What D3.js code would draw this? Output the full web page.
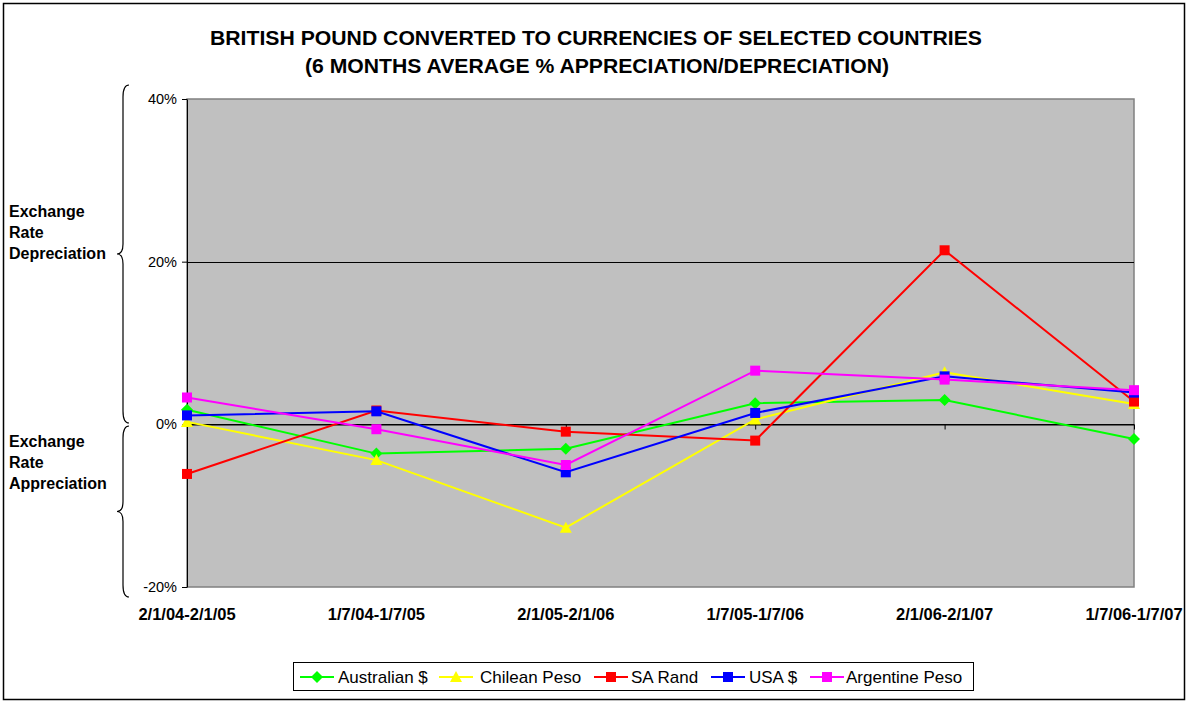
<!DOCTYPE html>
<html><head><meta charset="utf-8">
<script src="https://cdn.jsdelivr.net/npm/d3@7"></script>
<style>body{margin:0;background:#fff}svg{display:block;font-family:"Liberation Sans",Arial,sans-serif}</style>
</head><body><svg id="c" width="1187" height="702"></svg>
<script>
const categories = ["2/1/04-2/1/05","1/7/04-1/7/05","2/1/05-2/1/06","1/7/05-1/7/06","2/1/06-2/1/07","1/7/06-1/7/07"];
const australian = [1.8,-3.6,-3.0,2.6,3.0,-1.8];
const chilean = [0.3,-4.4,-12.7,0.6,6.4,2.5];
const saRand = [-6.1,1.7,-0.9,-2.0,21.4,2.8];
const usa = [1.1,1.6,-5.9,1.4,5.9,3.9];
const argentine = [3.3,-0.6,-5.0,6.6,5.5,4.2];
const yTicks = [-20,0,20,40];
const seriesNames = ["Australian $","Chilean Peso","SA Rand","USA $","Argentine Peso"];
const seriesColors = ["#00ff00","#ffff00","#ff0000","#0000ff","#ff00ff"];
const seriesMarkers = ["diamond","triangle","square","square","square"];
const seriesData = [australian,chilean,saRand,usa,argentine];

const svg = d3.select("#c");
svg.append("rect").attr("x",3.5).attr("y",3.5).attr("width",1181).attr("height",696).attr("fill","#fff").attr("stroke","#000").attr("stroke-width",1.5);

const L=187,R=1134,T=99,B=587;
const x = d3.scalePoint().domain(categories).range([L,R]);
const y = d3.scaleLinear().domain([-20,40]).range([B,T]);

svg.append("rect").attr("x",L).attr("y",T).attr("width",R-L).attr("height",B-T).attr("fill","#c0c0c0").attr("stroke","#808080").attr("stroke-width",1.5);

// gridlines
svg.append("g").selectAll("line").data(yTicks.filter(d=>d!==-20&&d!==40)).join("line")
  .attr("x1",L).attr("x2",R).attr("y1",d=>Math.round(y(d))+0.5).attr("y2",d=>Math.round(y(d))+0.5).attr("stroke","#000").attr("stroke-width",1);

// y axis
const yAxis = d3.axisLeft(y).tickValues(yTicks).tickFormat(d=>d+"%").tickSize(5).tickSizeOuter(0);
const gy = svg.append("g").attr("transform",`translate(${L},0)`).call(yAxis);
gy.select(".domain").attr("stroke","#000");
gy.selectAll("text").attr("font-size",14.5).attr("fill","#000").attr("dx",-2).attr("font-family","Liberation Sans, Arial, sans-serif");
gy.selectAll("line").attr("stroke","#000");

// x axis at 0
const xAxis = d3.axisBottom(x).tickSize(5).tickSizeOuter(0).tickFormat("");
const gx = svg.append("g").attr("transform",`translate(0,${Math.round(y(0))+0.5})`).call(xAxis);
gx.select(".domain").attr("stroke","#000");
gx.selectAll("line").attr("stroke","#000");

// category labels at bottom
svg.append("g").selectAll("text").data(categories).join("text")
  .attr("x",d=>x(d)).attr("y",620).attr("text-anchor","middle").attr("font-size",16.5).attr("font-weight","bold").text(d=>d);

// title
svg.append("text").attr("x",596).attr("y",45).attr("text-anchor","middle").attr("font-size",21).attr("font-weight","bold")
  .attr("textLength",772).attr("lengthAdjust","spacingAndGlyphs").text("BRITISH POUND CONVERTED TO CURRENCIES OF SELECTED COUNTRIES");
svg.append("text").attr("x",597).attr("y",73).attr("text-anchor","middle").attr("font-size",21).attr("font-weight","bold")
  .attr("textLength",584).attr("lengthAdjust","spacingAndGlyphs").text("(6 MONTHS AVERAGE % APPRECIATION/DEPRECIATION)");

// side labels
const side = [[["Exchange","Rate","Depreciation"],217],[["Exchange","Rate","Appreciation"],447]];
side.forEach(([lines,y0])=>{
  lines.forEach((t,i)=>svg.append("text").attr("x",9).attr("y",y0+i*21).attr("font-size",16).attr("font-weight","bold").text(t));
});

// braces
function brace(y1,y2){
  const m=(y1+y2)/2, xl=123, xr=129, xt=117;
  return `M${xr},${y1} Q${xl},${y1} ${xl},${y1+12} L${xl},${m-10} Q${xl},${m} ${xt},${m} Q${xl},${m} ${xl},${m+10} L${xl},${y2-12} Q${xl},${y2} ${xr},${y2}`;
}
svg.append("path").attr("d",brace(85,423)).attr("fill","none").attr("stroke","#000").attr("stroke-width",1.2);
svg.append("path").attr("d",brace(426,597)).attr("fill","none").attr("stroke","#000").attr("stroke-width",1.2);

// series
const line = d3.line().x((d,i)=>x(categories[i])).y(d=>y(d));
function marker(g,type,color,cx,cy){
  if(type==="square") g.append("rect").attr("x",cx-5).attr("y",cy-5).attr("width",10).attr("height",10).attr("fill",color);
  else if(type==="diamond") g.append("path").attr("d",`M${cx},${cy-6}L${cx+6},${cy}L${cx},${cy+6}L${cx-6},${cy}Z`).attr("fill",color);
  else g.append("path").attr("d",`M${cx},${cy-6}L${cx+6},${cy+5}L${cx-6},${cy+5}Z`).attr("fill",color);
}
seriesData.forEach((data,k)=>{
  const g = svg.append("g");
  g.append("path").attr("d",line(data)).attr("fill","none").attr("stroke",seriesColors[k]).attr("stroke-width",2);
  data.forEach((v,i)=>marker(g,seriesMarkers[k],seriesColors[k],x(categories[i]),y(v)));
});

// legend
const lg = svg.append("g");
lg.append("rect").attr("x",293.5).attr("y",662.5).attr("width",680).attr("height",28).attr("fill","#fff").attr("stroke","#000").attr("stroke-width",1);
const legX = [300,439,594,711,810];
const legT = [338,480,631,749,846];
seriesNames.forEach((n,k)=>{
  const cx = legX[k];
  lg.append("line").attr("x1",cx).attr("x2",cx+34).attr("y1",677).attr("y2",677).attr("stroke",seriesColors[k]).attr("stroke-width",2);
  marker(lg,seriesMarkers[k],seriesColors[k],cx+17,677);
  lg.append("text").attr("x",legT[k]).attr("y",683).attr("font-size",17).text(n);
});
</script></body></html>
